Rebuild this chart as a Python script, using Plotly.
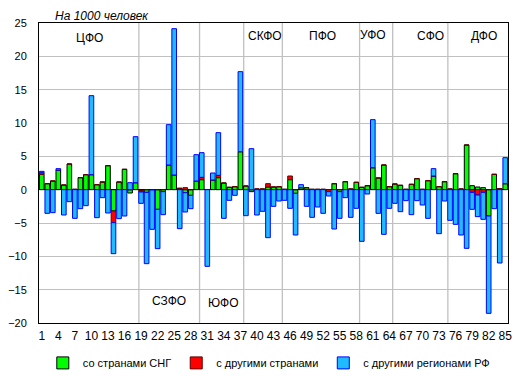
import plotly.graph_objects as go

regions = list(range(1, 86))

cis = [2.3, 0.9, 1.3, 2.95, 0.7, 3.85, 0.05, 1.8, 2.25, 2.25,
       0.75, 1.15, 3.6, -3.2, 1.15, 3.05, -0.5, 1.05, -0.1, -0.4,
       -0.05, -2.95, -0.3, 3.7, 2.2, 0.2, -0.45, -0.85, 1.3, 1.5,
       0.0, 1.45, 1.8, 1.0, 0.35, 0.45, 5.7, 0.55, -0.3, 0.1,
       0.1, 0.4, 0.4, 0.45, 0.05, 1.5, -0.55, 0.3, 0.3, 0.05,
       0.05, 0.05, 0.0, 0.9, -0.3, 1.2, 0.1, 1.1, 0.35, 0.6,
       3.3, 1.75, 3.7, 0.45, 0.85, 0.65, 0.05, 0.8, 1.65, 0.05,
       1.35, 2.05, 0.45, 1.2, 0.1, 2.4, 0.1, 6.7, 0.6, 0.4,
       0.3, -3.95, 2.3, 0.15, 0.9]

other = [0.25, 0, 0, 0, 0, 0, 0, 0, 0, 0,
         0, 0, 0, -1.75, 0, 0, 0, 0, -0.25, 0,
         0, 0, 0, 0, 0, 0, 0.3, 0, 0, 0.35,
         0, 0, 0.35, 0, 0, 0, 0, 0, 0, 0,
         0, 0.5, 0, 0, 0, 0.55, 0, 0, 0, 0,
         0, 0, -0.3, 0, 0, 0, 0, 0, 0, 0,
         0, 0, 0, 0, 0, 0, 0, 0, 0, 0,
         0, 0, 0, 0, 0, 0, 0, 0, -0.4, -0.8,
         -0.4, 0, 0, 0, 0]

rf = [0.2, -3.55, -3.45, 0.2, -3.8, -1.8, -4.3, -2.85, -2.4, 11.85,
      -4.2, -1.2, -3.5, -4.65, -4.35, -3.95, 1.05, 6.9, -1.7, -10.7,
      -5.9, -5.9, -3.45, 6.05, 21.95, -5.85, -2.9, -2.0, 3.95, 3.7,
      -11.5, 1.05, 6.4, -4.3, -1.6, -0.85, 12.0, -3.9, 6.15, -3.8,
      -3.25, -7.2, -2.5, -1.7, -1.6, -2.8, -6.25, 0.45, -2.5, -4.15,
      -2.6, -3.55, -0.65, -5.9, -4.0, -1.2, -4.15, -2.8, -7.75, -0.65,
      7.2, -3.55, -6.7, -2.8, -2.05, -3.3, -1.65, -3.75, -1.65, -2.3,
      -4.3, 1.1, -6.6, -1.7, -4.6, -5.2, -6.8, -8.8, -2.55, -3.25,
      -4.05, -14.6, -2.85, -11.0, 3.9]

series_names = ["со странами СНГ", "с другими странами", "с другими регионами РФ"]

x_ticks = list(range(1, 86, 3))
x_tick_text = [str(v) for v in x_ticks]
y_ticks = [-20, -15, -10, -5, 0, 5, 10, 15, 20, 25]

district_names = ["ЦФО", "СЗФО", "ЮФО", "СКФО", "ПФО", "УФО", "СФО", "ДФО"]
district_last = [18, 29, 37, 44, 58, 64, 74, 85]

FONT = "Liberation Sans, Arial, sans-serif"

fig = go.Figure()
fig.add_trace(go.Bar(x=regions, y=cis, name=series_names[0],
                     marker=dict(color="#00FF00", line=dict(color="#000000", width=1))))
fig.add_trace(go.Bar(x=regions, y=other, name=series_names[1],
                     marker=dict(color="#FF0000", line=dict(color="#600000", width=1))))
fig.add_trace(go.Bar(x=regions, y=rf, name=series_names[2],
                     marker=dict(color="#1EBBFF", line=dict(color="#0000FF", width=1))))

shapes = []
for b in district_last[:-1]:
    shapes.append(dict(type="line", xref="x", yref="paper", x0=b + 0.6, x1=b + 0.6,
                       y0=0, y1=1, line=dict(color="#C0C0C0", width=1.3), layer="below"))

lab_pos = {
    "ЦФО": (9.6, 22.7), "СЗФО": (24.1, -16.7), "ЮФО": (34.0, -17.0),
    "СКФО": (41.5, 23.1), "ПФО": (51.8, 23.1), "УФО": (61.1, 23.2),
    "СФО": (71.5, 23.1), "ДФО": (81.1, 23.1),
}
annotations = []
for name in district_names:
    xx, yy = lab_pos[name]
    annotations.append(dict(x=xx, y=yy, xref="x", yref="y", text=name, showarrow=False,
                            font=dict(family=FONT, size=12, color="#000000"),
                            xanchor="center", yanchor="middle"))
annotations.append(dict(x=0.03, y=1.024, xref="paper", yref="paper",
                        text="<i>На 1000 человек</i>", showarrow=False,
                        font=dict(family=FONT, size=12, color="#000000"),
                        xanchor="left", yanchor="middle"))

fig.update_layout(
    width=520, height=376,
    margin=dict(l=31, r=20, t=15, b=61, autoexpand=False),
    barmode="relative",
    bargap=0.16,
    plot_bgcolor="#FFFFFF",
    paper_bgcolor="#FFFFFF",
    font=dict(family=FONT, size=11, color="#000000"),
    shapes=shapes,
    annotations=annotations,
    showlegend=True,
    legend=dict(orientation="h", x=0.49, xanchor="center", y=-0.133, yanchor="middle",
                font=dict(family=FONT, size=11), itemwidth=30, tracegroupgap=0,
                bgcolor="rgba(0,0,0,0)"),
)
fig.update_xaxes(range=[0.5, 85.5], tickmode="array", tickvals=x_ticks, ticktext=x_tick_text,
                 showgrid=False, showline=True, mirror=True, linecolor="#000000", linewidth=1,
                 ticks="", tickfont=dict(family=FONT, size=12), ticklabelstandoff=2,
                 zeroline=False, automargin=False)
fig.update_yaxes(range=[-20, 25], tickmode="array", tickvals=y_ticks,
                 showgrid=True, gridcolor="#C0C0C0", gridwidth=1,
                 showline=True, mirror=True, linecolor="#000000", linewidth=1,
                 zeroline=True, zerolinecolor="#000000", zerolinewidth=1,
                 ticks="", tickfont=dict(family=FONT, size=11), ticklabelstandoff=9,
                 automargin=False)

fig.write_html("out.html")
